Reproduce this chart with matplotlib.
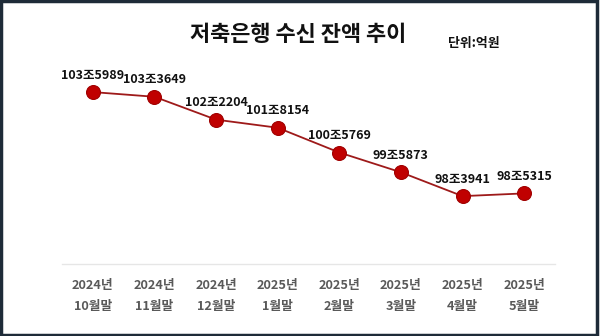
import matplotlib.pyplot as plt
from matplotlib.patches import Rectangle

plt.rcParams['font.family'] = ['Noto Sans CJK KR', 'DejaVu Sans']

# 월말 기준 저축은행 수신 잔액 (단위: 억원)
years = ["2024년", "2024년", "2024년", "2025년", "2025년", "2025년", "2025년", "2025년"]
months = ["10월말", "11월말", "12월말", "1월말", "2월말", "3월말", "4월말", "5월말"]
balance = [1035989, 1033649, 1022204, 1018154, 1005769, 995873, 983941, 985315]


def fmt_jo(v):
    # 억원 -> "103조5989" 형태
    return "{}조{:04d}".format(v // 10000, v % 10000)


fig = plt.figure(figsize=(6, 3.36), dpi=100)
fig.patch.set_facecolor("white")
ax = fig.add_axes([0.1033, 0.2143, 0.8217, 0.595])

x = list(range(len(balance)))
ax.plot(x, balance, color="#9e1a1a", lw=1.3, zorder=2)
ax.scatter(x, balance, s=100, color="#c00000", edgecolor="#a00000", lw=0.8, zorder=3)

for i, v in enumerate(balance):
    ax.annotate(fmt_jo(v), (i, v), xytext=(0, 7.5), textcoords="offset points",
                ha="center", va="bottom", fontsize=9, fontweight="bold", color="#111111")

ax.set_xlim(-0.5, len(balance) - 0.5)
ax.set_ylim(950000, 1050000)
ax.set_xticks(x)
ax.set_xticklabels([y + "\n" + m for y, m in zip(years, months)],
                   fontsize=9.2, fontweight="bold", color="#595959", linespacing=1.75)
ax.tick_params(axis="x", length=0, pad=11)
ax.set_yticks([])
for side in ["top", "left", "right"]:
    ax.spines[side].set_visible(False)
ax.spines["bottom"].set_color("#e6e6e6")
ax.spines["bottom"].set_linewidth(1)

fig.text(0.497, 0.897, "저축은행 수신 잔액 추이", ha="center", va="center",
         fontsize=15.8, fontweight="bold", color="#111111")
fig.text(0.746, 0.872, "단위:억원", ha="left", va="center",
         fontsize=9.3, fontweight="bold", color="#111111")

# 바깥 테두리
fig.patches.append(Rectangle((0.002, 0.004), 0.993, 0.992, transform=fig.transFigure,
                             fill=False, edgecolor="#1e2b38", lw=2.5))

fig.savefig("out.png", dpi=100)
